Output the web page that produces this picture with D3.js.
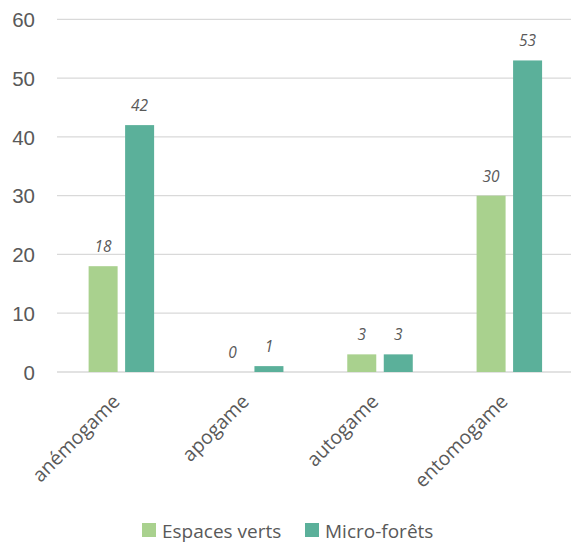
<!DOCTYPE html>
<html><head><meta charset="utf-8">
<script src="https://cdn.jsdelivr.net/npm/d3@7"></script>
<style>body{margin:0;background:#fff}svg{display:block}</style>
</head><body>
<script>
const categories = ["anémogame", "apogame", "autogame", "entomogame"];
const seriesNames = ["Espaces verts", "Micro-forêts"];
const espacesVerts = [18, 0, 3, 30];
const microForets = [42, 1, 3, 53];
const yTicks = [0, 10, 20, 30, 40, 50, 60];
const colors = ["#A9D18E", "#5BB09A"];

const W = 571, H = 546;
const svg = d3.select("body").append("svg").attr("width", W).attr("height", H)
  .style("font-family", "'Open Sans', sans-serif");

const x = d3.scaleBand().domain(categories).range([56.7, 574]).paddingInner(0).paddingOuter(0);
const y = d3.scaleLinear().domain([0, 60]).range([372, 19.3]);
const bw = 29, gap = 7.5;

// gridlines
svg.append("g").selectAll("line").data(yTicks).join("line")
  .attr("x1", 57).attr("x2", 571)
  .attr("y1", d => y(d)).attr("y2", d => y(d))
  .attr("stroke", "#D9D9D9").attr("stroke-width", 1.3);

// y axis labels
const yAxis = d3.axisLeft(y).tickValues(yTicks).tickSize(0).tickPadding(0);
const ya = svg.append("g").attr("transform", "translate(35,0)").call(yAxis);
ya.select(".domain").remove();
ya.selectAll("text").attr("fill", "#595959").style("font-size", "20.5px")
  .attr("text-anchor", "end").attr("dy", "0.35em");

const series = [espacesVerts, microForets];
series.forEach((vals, s) => {
  const off = s === 0 ? -gap/2 - bw : gap/2;
  const g = svg.append("g");
  g.selectAll("rect").data(vals).join("rect")
    .attr("x", (d, i) => x(categories[i]) + x.bandwidth()/2 + off)
    .attr("width", bw)
    .attr("y", d => y(d))
    .attr("height", d => y(0) - y(d))
    .attr("fill", colors[s]);
  g.selectAll("text").data(vals).join("text")
    .attr("x", (d, i) => x(categories[i]) + x.bandwidth()/2 + off + bw/2)
    .attr("y", d => y(d) - 14)
    .attr("text-anchor", "middle")
    .attr("fill", "#595959").style("font-size", "15.5px").style("font-style", "italic")
    .text(d => d);
});

// x labels rotated
svg.append("g").selectAll("text").data(categories).join("text")
  .attr("transform", d => `translate(${x(d) + x.bandwidth()/2 - 10},${393}) rotate(-45)`)
  .attr("text-anchor", "end")
  .attr("dy", "0.7em")
  .attr("fill", "#595959").style("font-size", "19.5px")
  .text(d => d);

// legend
const leg = svg.append("g");
const legX = [142, 305];
seriesNames.forEach((n, i) => {
  leg.append("rect").attr("x", legX[i]).attr("y", 523).attr("width", 14).attr("height", 14).attr("fill", colors[i]);
  leg.append("text").attr("x", legX[i] + 20).attr("y", 537.5).attr("fill", "#595959")
    .style("font-size", "19px").text(n);
});
</script>
</body></html>
